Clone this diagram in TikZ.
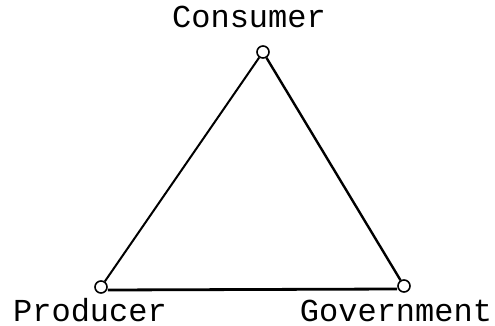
\documentclass[tikz,border=0pt]{standalone}
\usepackage{fontspec}
\setmonofont{Liberation Mono}
\begin{document}
\begin{tikzpicture}[x=1pt, y=-1pt,
    vertex/.style={draw, circle, line width=1.6pt, fill=white, inner sep=0pt, minimum size=12pt},
    side/.style={line width=2pt},
    tag/.style={font=\ttfamily\fontsize{32}{32}\selectfont, inner sep=0pt, anchor=base},
]
\useasboundingbox (0,0) rectangle (495,326);

% Corners
\node[vertex] (cons) at (263,52) {};
\node[vertex] (prod) at (101,287) {};
\node[vertex] (gov) at (404,286) {};

% Names
\node[tag] (consname) at (249,28) {Consumer};
\node[tag] (prodname) at (90,321) {Producer};
\node[tag] (govname) at (396,321) {Government};

% Sides
\draw[side] (cons) -- (prod);
\draw[side, line width=2.4pt] (cons) -- (gov);
\draw[side, line width=2.8pt] ([yshift=-3pt]prod.east) -- ([yshift=-3pt]gov.west);
\end{tikzpicture}
\end{document}
